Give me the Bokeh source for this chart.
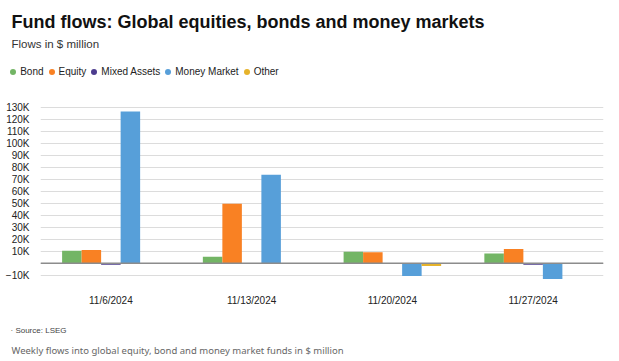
from bokeh.plotting import figure
from bokeh.layouts import column
from bokeh.models import (FactorRange, Label, Legend, LegendItem, FixedTicker, Span,
                          ColumnDataSource, Range1d)
from bokeh.transform import dodge
from bokeh.embed import file_html
from bokeh.resources import INLINE

dates = ["11/6/2024", "11/13/2024", "11/20/2024", "11/27/2024"]
series = ["Bond", "Equity", "Mixed Assets", "Money Market", "Other"]
bond = [10600, 5600, 9700, 8300]
equity = [11100, 49700, 9200, 11900]
mixed = [-1100, -300, 0, -1100]
money_market = [126900, 73900, -10600, -13100]
other = [0, 0, -2200, 0]
colors = ["#73B565", "#F98123", "#4C3C8E", "#579FD9", "#E6B32B"]
y_ticks = [-10000, 0, 10000, 20000, 30000, 40000, 50000, 60000, 70000,
           80000, 90000, 100000, 110000, 120000, 130000]
y_tick_labels = ["\u221210K", "", "10K", "20K", "30K", "40K", "50K", "60K", "70K",
                 "80K", "90K", "100K", "110K", "120K", "130K"]

FONT = "Liberation Sans"
W = 613
HH, HM, HF = 95, 225, 39   # header, main, footer heights


def blank(h):
    f = figure(width=W, height=h, x_range=Range1d(0, 1), y_range=Range1d(0, 1),
               x_axis_type=None, y_axis_type=None, output_backend="svg",
               toolbar_location=None, min_border=0, frame_align=False)
    f.outline_line_color = None
    f.xgrid.visible = False
    f.ygrid.visible = False
    return f


def lab(f, h, text, px, py, size, color="#111111", style="normal", font=FONT):
    f.add_layout(Label(x=px, y=h - py, x_units="screen", y_units="screen",
                       text=text, text_font=font, text_font_size=size,
                       text_color=color, text_font_style=style,
                       text_baseline="alphabetic"))


# ---------- header: title, subtitle, legend ----------
head = blank(HH)
lab(head, HH, "Fund flows: Global equities, bonds and money markets", 11, 21.5, "18px",
    "#111111", "bold")
lab(head, HH, "Flows in $ million", 11, 43, "11.5px", "#333333")

items = []
for name, col in zip(series, colors):
    r = head.scatter(x=[0.5], y=[float("nan")], marker="circle", size=6,
                     fill_color=col, line_color=None)
    items.append(LegendItem(label=name, renderers=[r]))
leg = Legend(items=items, orientation="horizontal", location=(5.2, 15.8),
             glyph_width=15, glyph_height=15, label_standoff=-1, spacing=0,
             padding=0, margin=0, border_line_color=None, background_fill_alpha=0,
             label_text_font=FONT, label_text_font_size="10px",
             label_text_color="#222222", label_height=15)
head.add_layout(leg, "center")

# ---------- main chart ----------
src = ColumnDataSource(dict(date=dates, Bond=bond, Equity=equity, Mixed=mixed,
                            MM=money_market, Other=other))

p = figure(x_range=FactorRange(*dates), y_range=(-16000, 136000),
           width=W, height=HM, output_backend="svg", toolbar_location=None,
           min_border_left=40, min_border_right=W - 603, min_border_top=5,
           min_border_bottom=38, frame_align=False)
p.outline_line_color = None

bw = 0.1386
cols = ["Bond", "Equity", "Mixed", "MM", "Other"]
for i, (c, col) in enumerate(zip(cols, colors)):
    p.vbar(x=dodge("date", (i - 2) * bw, range=p.x_range), top=c, bottom=0,
           width=bw, source=src, fill_color=col, line_color=None)

p.add_layout(Span(location=0, dimension="width", line_color="#8c8c8c", line_width=1.5))

p.xgrid.grid_line_color = None
p.ygrid.grid_line_color = "#dcdcdc"
p.ygrid.grid_line_width = 1
p.yaxis.ticker = FixedTicker(ticks=y_ticks)
p.yaxis.major_label_overrides = {t: l for t, l in zip(y_ticks, y_tick_labels)}
for ax in (p.xaxis, p.yaxis):
    ax.axis_line_color = None
    ax.major_tick_line_color = None
    ax.minor_tick_line_color = None
    ax.major_label_text_font = FONT
    ax.major_label_text_font_size = "10px"
    ax.major_label_text_color = "#222222"
p.yaxis.major_label_standoff = 5
p.xaxis.major_label_standoff = 6

# ---------- footer ----------
foot = blank(HF)
lab(foot, HF, "\u00b7 Source: LSEG", 10, 9.5, "8px", "#444444")
lab(foot, HF, "Weekly flows into global equity, bond and money market funds in $ million",
    11, 29.5, "9.5px", "#666666", font="Noto Sans")

layout = column(head, p, foot, spacing=0)
open("out.html", "w").write(file_html(layout, INLINE))
